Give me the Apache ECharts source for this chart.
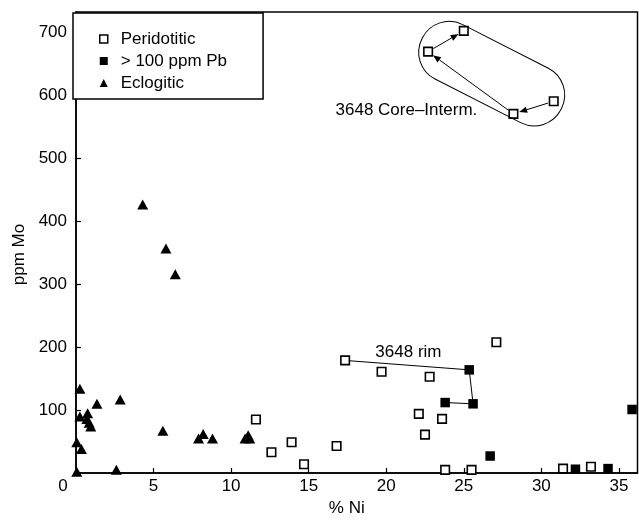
<!DOCTYPE html>
<html><head><meta charset="utf-8">
<script src="https://cdn.jsdelivr.net/npm/echarts@6/dist/echarts.min.js"></script>
<style>html,body{margin:0;padding:0;background:#fff}#c{width:639px;height:522px}</style>
</head><body><div id="c"></div>
<script>
// ---- data ----
const xTicks = [0, 5, 10, 15, 20, 25, 30, 35];
const yTicks = [100, 200, 300, 400, 500, 600, 700];
const peridotitic = [
  [11.6, 85], [13.9, 49], [12.6, 33], [16.8, 43], [14.7, 14],
  [17.35, 179], [19.7, 161], [22.8, 153], [27.1, 208],
  [22.1, 94], [23.6, 86], [22.5, 61], [23.8, 5], [25.5, 5],
  [31.4, 7], [33.2, 10],
  [25.0, 703], [22.7, 670], [30.8, 591], [28.2, 571]
];
const highPb = [
  [25.35, 164], [25.6, 110], [23.8, 112], [26.7, 27],
  [32.2, 6], [34.3, 7], [35.85, 101]
];
const eclogitic = [
  [0.05, 2], [0.05, 49], [0.35, 38], [0.25, 134], [0.25, 90], [0.75, 95],
  [0.7, 86], [0.85, 80], [0.95, 74], [1.35, 110], [2.85, 117], [2.6, 5],
  [4.3, 427], [5.8, 357], [6.4, 316], [5.6, 67],
  [7.9, 55], [8.2, 62], [8.8, 55], [10.9, 55], [11.1, 60], [11.2, 55]
];
const rimPath = [[17.35, 179], [25.35, 164], [25.6, 110], [23.8, 112]];
const coreArrows = [
  [[30.8, 591], [28.2, 571]],
  [[28.2, 571], [22.7, 670]],
  [[22.7, 670], [25.0, 703]]
];
const coreLabelText = '3648 Core\u2013Interm.';
const coreLabelAnchor = [25.87, 576];   // right end of label
const rimLabelText = '3648 rim';
const rimLabelAnchor = [19.3, 192];     // left end of label
const ellipseCenter = [26.8, 635];

const FONT = 'Liberation Sans, Arial, Helvetica, sans-serif';
const chart = echarts.init(document.getElementById('c'), null, {renderer: 'canvas'});

const axisCommon = {
  axisLine: {show: true, onZero: false, lineStyle: {color: '#000', width: 1.5}},
  axisTick: {show: true, inside: true, length: 5, lineStyle: {color: '#000', width: 1.2}},
  splitLine: {show: false},
  axisLabel: {color: '#000', fontSize: 17, fontFamily: FONT, showMaxLabel: false},
  nameTextStyle: {color: '#000', fontSize: 17, fontFamily: FONT}
};

chart.setOption({
  animation: false,
  backgroundColor: '#fff',
  grid: {left: 76, right: 1.5, top: 12, bottom: 45, show: true, borderColor: '#000', borderWidth: 1.5},
  xAxis: Object.assign({}, axisCommon, {
    type: 'value', min: 0, max: 36.2, interval: 5,
    name: '% Ni', nameLocation: 'middle', nameGap: 27,
    axisLabel: Object.assign({}, axisCommon.axisLabel, {margin: 5,
      formatter: v => v === 0 ? '{z|0}' : (xTicks.indexOf(v) >= 0 ? String(v) : ''),
      rich: {z: {fontSize: 17, fontFamily: FONT, color: '#000', padding: [0, 26, 0, 0]}}}),
    nameTextStyle: Object.assign({}, axisCommon.nameTextStyle, {padding: [0, 20, 0, 0]})
  }),
  yAxis: Object.assign({}, axisCommon, {
    type: 'value', min: 0, max: 733, interval: 100,
    name: 'ppm Mo', nameLocation: 'middle', nameGap: 48, nameRotate: 90,
    axisLabel: Object.assign({}, axisCommon.axisLabel, {margin: 9,
      formatter: v => yTicks.indexOf(v) >= 0 ? String(v) : ''}),
    nameTextStyle: Object.assign({}, axisCommon.nameTextStyle, {padding: [0, 24, 0, 0]})
  }),
  legend: {
    orient: 'vertical', left: 73, top: 13,
    padding: [17.5, 36, 7.5, 26],
    itemWidth: 8, itemHeight: 8, itemGap: 5,
    borderColor: '#000', borderWidth: 1.5, backgroundColor: '#fff',
    textStyle: {color: '#000', fontSize: 17, fontFamily: FONT, padding: [0, 0, 0, 8]},
    data: [
      {name: 'Peridotitic', icon: 'rect', itemStyle: {color: '#fff', borderColor: '#000', borderWidth: 1.5}},
      {name: '> 100 ppm Pb', icon: 'rect', itemStyle: {color: '#000', borderWidth: 0}},
      {name: 'Eclogitic', icon: 'triangle', itemStyle: {color: '#000', borderWidth: 0}}
    ]
  },
  series: [
    {type: 'line', name: 'rim', data: rimPath, symbol: 'none', silent: true,
     lineStyle: {color: '#000', width: 1}, z: 1},
    {type: 'scatter', name: 'Peridotitic', data: peridotitic, symbol: 'rect', symbolSize: 8.5,
     itemStyle: {color: '#fff', borderColor: '#000', borderWidth: 1.6, opacity: 1}, z: 3},
    {type: 'scatter', name: '> 100 ppm Pb', data: highPb, symbol: 'rect', symbolSize: 9.5,
     itemStyle: {color: '#000', opacity: 1}, z: 4},
    {type: 'scatter', name: 'Eclogitic', data: eclogitic, symbol: 'triangle', symbolSize: [11, 10],
     itemStyle: {color: '#000', opacity: 1}, z: 4}
  ]
});

function px(p) { return chart.convertToPixel({gridIndex: 0}, p); }
const g = [];
coreArrows.forEach(seg => {
  const a = px(seg[0]), b = px(seg[1]);
  const dx = b[0] - a[0], dy = b[1] - a[1], L = Math.hypot(dx, dy);
  const ux = dx / L, uy = dy / L;
  const s = [a[0] + ux * 6, a[1] + uy * 6];
  const e = [b[0] - ux * 6, b[1] - uy * 6];
  const hl = 8, hw = 3.2;
  const base = [e[0] - ux * hl, e[1] - uy * hl];
  g.push({type: 'line', shape: {x1: s[0], y1: s[1], x2: base[0], y2: base[1]},
          style: {stroke: '#000', lineWidth: 1}, silent: true, z: 10});
  g.push({type: 'polygon', shape: {points: [e,
      [base[0] - uy * hw, base[1] + ux * hw], [base[0] + uy * hw, base[1] - ux * hw]]},
      style: {fill: '#000'}, silent: true, z: 10});
});
const ec = px(ellipseCenter);
g.push({type: 'rect', x: ec[0], y: ec[1], rotation: -27 * Math.PI / 180,
        shape: {x: -78, y: -30.5, width: 156, height: 61, r: 30},
        style: {fill: 'none', stroke: '#000', lineWidth: 1}, silent: true, z: 9});
const cl = px(coreLabelAnchor);
g.push({type: 'text', x: cl[0], y: cl[1], silent: true, z: 10,
        style: {text: coreLabelText, font: '17px ' + FONT, fill: '#000', align: 'right', verticalAlign: 'middle'}});
const rl = px(rimLabelAnchor);
g.push({type: 'text', x: rl[0], y: rl[1], silent: true, z: 10,
        style: {text: rimLabelText, font: '17px ' + FONT, fill: '#000', align: 'left', verticalAlign: 'middle'}});
chart.setOption({graphic: g});
</script>
</body></html>
